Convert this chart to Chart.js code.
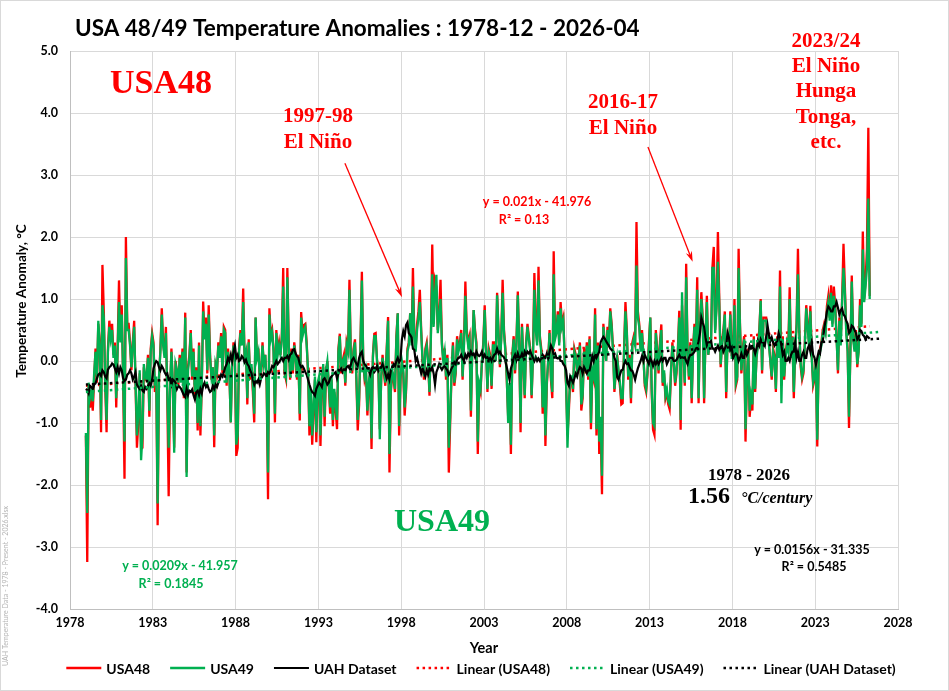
<!DOCTYPE html>
<html>
<head>
<meta charset="utf-8">
<script src="https://cdn.jsdelivr.net/npm/chart.js@4.4.1/dist/chart.umd.min.js"></script>
<style>
  html, body { margin: 0; padding: 0; background: #fff; }
</style>
</head>
<body>
<canvas id="myChart" width="949" height="691"></canvas>
<script>
// monthly series, first value = 1978-12
const startYear = 1978, startMonth = 12;

const usa48 = [
  -1.20,
  -3.24,-0.40,-0.75,-0.55,-0.80,-0.30,0.20,-0.35,0.60,0.30,-1.15,1.55,
  0.80,-0.40,-1.15,0.20,0.65,0.40,0.60,0.10,0.30,-0.75,0.20,1.30,
  0.35,0.90,-0.30,-1.90,2.00,0.60,0.60,0.30,-0.15,0.30,0.65,-0.40,
  -1.40,-1.00,-0.20,-1.42,-1.40,-0.10,-0.30,-0.30,0.10,-0.90,0.20,0.45,
  0.30,-0.50,-0.30,-2.65,-0.30,0.20,0.85,0.30,0.10,0.55,-0.60,-2.18,
  -0.50,0.20,-0.40,-1.40,0.00,-0.20,-0.40,0.10,-0.30,0.20,-0.60,0.78,
  -1.80,-0.10,0.10,0.50,-0.30,0.20,-0.60,-0.10,-1.12,0.30,-1.20,-0.40,
  0.96,0.40,0.70,-0.20,0.90,0.10,-0.30,-0.10,-1.39,-0.10,-0.20,0.30,
  0.10,0.45,-0.20,0.55,0.50,-0.40,0.20,-0.20,-0.99,0.00,0.30,0.00,
  -1.53,-1.40,0.20,0.50,0.30,1.17,0.05,0.20,-0.70,0.35,-0.30,-0.10,
  -0.50,-0.99,0.70,0.00,0.20,-0.30,-0.20,0.30,-0.10,0.10,-0.40,-2.23,
  0.85,0.40,0.50,0.20,-0.99,0.50,0.15,0.30,0.10,0.40,1.50,-0.20,
  -0.30,1.50,0.30,-0.30,0.20,-0.20,0.30,0.10,-0.30,0.10,-0.96,0.79,
  0.45,0.58,0.60,0.30,-0.20,-1.20,-0.50,-1.35,-0.80,-0.30,-1.31,-0.40,
  -0.30,-1.37,-0.40,-0.10,-1.05,-0.20,0.00,-0.40,-0.85,-0.30,-1.05,-0.50,
  -0.80,-1.10,0.20,0.44,-0.20,0.00,0.10,-0.40,0.30,0.20,1.31,0.10,
  -0.20,0.20,0.35,-0.30,-1.12,-0.70,0.30,1.44,0.00,-0.30,-0.20,-0.88,
  -0.40,-0.20,-1.42,0.10,0.44,0.45,0.00,-0.20,-1.10,-0.30,0.10,-0.20,
  -0.40,0.20,0.71,-1.80,-0.50,-0.20,-0.30,-0.50,0.40,0.77,-1.20,-0.30,
  0.00,-0.20,-0.88,-0.50,0.20,0.30,0.77,0.30,1.50,0.40,0.20,0.60,
  0.80,1.15,0.50,0.00,-0.30,0.20,0.30,0.00,-0.56,0.40,1.88,0.60,
  1.30,1.20,0.50,0.80,1.31,0.30,0.00,0.20,-0.30,0.10,-1.80,-1.00,
  -0.20,0.30,-0.40,-0.20,0.40,0.20,0.30,0.50,-0.30,0.30,1.28,0.50,
  0.30,0.40,-0.90,0.20,0.82,0.50,0.30,-1.50,-0.40,-0.50,0.00,0.30,
  0.90,0.20,-0.50,0.20,0.10,-0.45,0.30,0.30,0.00,1.10,0.50,-0.10,
  0.40,1.31,0.50,0.20,-0.30,-0.90,-0.40,-1.50,0.10,0.40,-0.20,0.30,
  1.12,0.30,-1.15,0.60,0.00,-0.60,0.30,0.60,0.40,0.20,-0.60,0.10,
  1.42,0.60,0.30,1.52,0.40,0.20,-0.85,0.10,-1.37,-0.40,0.00,0.50,
  -0.30,-0.60,1.77,0.40,0.50,0.80,0.30,0.95,0.60,0.70,0.00,-0.40,
  -1.20,-0.80,-0.30,-0.30,-0.50,0.20,0.10,-0.20,0.00,0.30,-0.80,-0.60,
  0.20,-0.20,0.30,-0.30,0.40,-1.10,-0.20,-0.30,0.85,-1.20,0.30,-1.50,
  -1.00,-2.15,0.60,0.30,0.00,0.55,0.30,0.85,0.60,0.20,-0.50,-0.20,
  0.10,-0.20,-0.40,-0.70,-0.68,0.20,0.95,0.50,-0.30,0.10,-0.68,0.30,
  0.40,0.30,2.24,0.80,0.60,0.20,0.50,0.10,-0.40,-0.50,-0.20,0.30,
  0.70,-0.50,-1.11,-1.19,0.50,0.20,-0.20,0.30,0.59,-0.40,-0.20,-0.60,
  -0.50,-0.70,-0.78,-0.20,0.30,0.00,-0.40,-0.20,0.20,0.81,-1.11,0.90,
  0.20,-0.40,1.57,0.20,-0.30,0.30,-0.68,0.20,0.60,0.20,1.35,-0.68,
  0.60,1.11,0.70,-0.68,0.40,1.05,0.10,0.30,0.30,1.50,1.84,0.50,
  0.90,2.08,1.00,-0.10,0.30,0.50,0.80,-0.60,0.40,0.20,0.80,0.10,
  0.10,1.00,-0.40,-0.30,1.81,0.60,-0.20,0.20,0.40,-1.30,-0.30,0.20,
  -0.90,-0.60,-0.80,0.40,-0.50,0.10,0.30,0.50,1.00,-0.20,0.70,0.70,
  0.70,0.40,0.30,0.00,-0.30,0.20,0.10,-0.50,0.40,0.10,1.46,-0.40,
  0.40,-0.30,0.10,0.30,0.20,1.19,0.10,0.40,-0.60,0.20,0.60,1.81,
  0.50,-0.10,-0.30,-0.20,0.30,0.90,0.60,0.30,0.89,0.10,-0.40,-0.30,
  0.00,-1.38,0.00,0.20,0.30,0.50,0.60,0.50,0.89,1.05,0.70,1.22,
  0.60,1.20,0.90,0.40,-0.20,0.70,0.30,1.00,1.89,1.20,0.50,0.20,
  -1.08,0.20,1.38,0.40,0.20,0.50,-0.10,0.20,1.00,0.60,2.09,1.00,
  1.30,1.80,3.76,1.05
];

const usa49 = [
  -1.16,
  -2.45,-0.35,-0.60,-0.50,-0.65,-0.20,0.15,-0.30,0.65,0.25,-0.95,0.90,
  0.70,-0.30,-0.95,0.15,0.55,0.35,0.50,0.05,0.25,-0.60,0.15,0.95,
  0.30,0.75,-0.25,-1.30,1.66,0.50,0.50,0.25,-0.10,0.25,0.55,-0.35,
  -1.20,-0.85,-0.15,-1.60,-1.20,-0.05,-0.25,-0.30,0.05,-0.80,0.15,0.40,
  0.25,-0.40,-0.25,-2.30,-0.25,0.15,0.75,0.25,0.05,0.45,-0.50,-1.40,
  -0.45,0.15,-0.35,-1.48,-0.05,-0.15,-0.35,0.05,-0.35,0.15,-0.55,0.70,
  -1.87,-0.15,0.05,0.45,-0.25,0.15,-0.50,-0.15,-1.00,0.25,-1.05,-0.35,
  0.80,0.35,0.60,-0.15,0.75,0.05,-0.25,-0.10,-1.20,-0.05,-0.15,0.25,
  0.05,0.40,-0.15,0.50,0.45,-0.35,0.15,-0.20,-0.99,0.00,0.25,0.05,
  -1.35,-1.20,0.15,0.45,0.25,0.95,0.05,0.15,-0.60,0.30,-0.25,-0.05,
  -0.40,-0.85,0.70,0.05,0.15,-0.25,-0.15,0.25,-0.05,0.10,-0.35,-1.80,
  0.75,0.35,0.45,0.15,-0.85,0.45,0.10,0.25,0.10,0.35,1.20,-0.15,
  -0.25,1.35,0.25,-0.25,0.15,-0.15,0.25,0.05,-0.25,0.05,-0.85,0.70,
  0.40,0.50,0.55,0.25,-0.15,-1.05,-0.45,-1.20,-0.70,-0.25,-1.15,-0.35,
  -0.25,-1.20,-0.35,-0.05,-0.90,-0.15,0.00,-0.35,-0.75,-0.25,-0.95,-0.45,
  -0.70,-0.95,0.15,0.40,-0.15,0.00,0.05,-0.35,0.25,0.15,1.15,0.05,
  -0.15,0.15,0.30,-0.25,-0.95,-0.60,0.25,1.30,0.00,-0.25,-0.15,-0.80,
  -0.35,-0.15,-1.25,0.05,0.40,0.40,0.00,-0.15,-1.26,-0.25,0.05,-0.15,
  -0.35,0.15,0.65,-1.50,-0.45,-0.15,-0.25,-0.45,0.35,0.77,-1.05,-0.25,
  0.00,-0.15,-0.75,-0.45,0.15,0.25,0.77,0.25,1.20,0.35,0.15,0.50,
  0.70,0.95,0.45,0.00,-0.25,0.15,0.25,0.00,-0.50,0.35,1.40,0.55,
  1.10,1.39,0.45,0.70,1.00,0.25,0.00,0.15,-0.25,0.05,-1.40,-0.90,
  -0.15,0.25,-0.35,-0.15,0.35,0.15,0.25,0.45,-0.25,0.25,1.05,0.45,
  0.25,0.35,-0.80,0.15,0.82,0.45,0.25,-1.30,-0.35,-0.45,0.00,0.25,
  0.82,0.15,-0.45,0.15,0.05,-0.40,0.25,0.25,0.00,1.06,0.45,-0.05,
  0.35,1.10,0.45,0.15,-0.25,-1.00,-0.35,-1.35,0.05,0.35,-0.15,0.25,
  1.06,0.25,-1.00,0.55,0.00,-0.55,0.25,0.55,0.35,0.15,-0.55,0.05,
  1.15,0.50,0.25,1.30,0.35,0.15,-0.75,0.05,-1.20,-0.35,0.00,0.45,
  -0.25,-0.50,1.40,0.35,0.45,0.75,0.25,0.85,0.55,0.65,0.00,-0.35,
  -1.40,-0.70,-0.25,-0.25,-0.45,0.15,0.05,-0.15,0.00,0.25,-0.70,-0.55,
  0.15,-0.15,0.25,-0.25,0.35,-1.00,-0.15,-0.25,0.75,-1.10,0.25,-1.30,
  -0.90,-1.85,0.55,0.25,0.00,0.50,0.25,0.80,0.55,0.15,-0.45,-0.15,
  0.05,-0.15,-0.35,-0.60,-0.60,0.15,0.80,0.45,-0.25,0.05,-0.60,0.25,
  0.35,0.25,1.54,0.70,0.55,0.15,0.45,0.05,-0.35,-0.45,-0.15,0.25,
  0.70,-0.45,-1.00,-1.05,0.45,0.15,-0.15,0.25,0.50,-0.35,-0.15,-0.55,
  -0.45,-0.65,-0.70,-0.15,0.25,0.00,-0.35,-0.15,0.15,0.70,-0.95,1.11,
  0.15,-0.35,1.35,0.15,-0.25,0.25,-0.60,0.15,0.55,0.15,1.15,-0.60,
  0.55,1.00,0.65,-0.60,0.35,0.95,0.10,0.25,0.25,1.50,1.50,0.45,
  0.85,1.60,0.90,-0.05,0.25,0.45,0.75,-0.50,0.35,0.15,0.75,0.05,
  0.05,0.90,-0.35,-0.25,1.50,0.55,-0.15,0.15,0.35,-1.10,-0.25,0.15,
  -0.80,-0.55,-0.70,0.35,-0.45,0.05,0.25,0.45,0.97,-0.15,0.65,0.65,
  0.65,0.35,0.25,0.00,-0.25,0.15,0.05,-0.45,0.35,0.05,1.20,-0.68,
  0.35,-0.25,0.05,0.25,0.15,1.00,0.05,0.35,-0.50,0.15,0.55,1.40,
  0.45,-0.05,-0.25,-0.15,0.25,0.85,0.55,0.25,0.80,0.05,-0.35,-0.25,
  0.00,-1.27,0.00,0.15,0.25,0.45,0.55,0.45,0.80,0.95,0.65,1.10,
  0.55,1.05,0.85,0.35,-0.15,0.65,0.25,0.95,1.50,1.10,0.45,0.15,
  -0.90,0.15,1.28,0.35,0.15,0.45,-0.05,0.15,0.90,0.55,1.80,0.95,
  1.20,1.50,2.62,1.00
];

const uah = [
  -0.45,
  -0.47,-0.52,-0.40,-0.42,-0.45,-0.38,-0.36,-0.28,-0.22,-0.20,-0.24,-0.15,
  -0.18,-0.25,-0.28,-0.14,-0.10,-0.08,-0.04,-0.06,-0.12,-0.18,-0.10,-0.20,
  -0.10,-0.15,-0.28,-0.32,-0.30,-0.22,-0.20,-0.15,-0.20,-0.30,-0.25,-0.18,
  -0.38,-0.42,-0.45,-0.40,-0.48,-0.50,-0.42,-0.45,-0.40,-0.36,-0.40,-0.30,
  -0.12,-0.05,0.00,-0.02,-0.10,-0.15,-0.08,-0.12,-0.18,-0.22,-0.20,-0.30,
  -0.28,-0.38,-0.30,-0.32,-0.35,-0.45,-0.40,-0.42,-0.45,-0.50,-0.55,-0.58,
  -0.45,-0.55,-0.48,-0.50,-0.46,-0.55,-0.62,-0.50,-0.48,-0.55,-0.45,-0.52,
  -0.40,-0.35,-0.42,-0.38,-0.45,-0.50,-0.48,-0.40,-0.45,-0.38,-0.42,-0.35,
  -0.30,-0.22,-0.25,-0.18,-0.10,-0.05,0.05,0.00,0.10,0.00,0.15,0.25,
  0.05,0.10,0.00,0.02,0.08,0.05,-0.02,0.02,-0.05,-0.08,-0.15,-0.20,
  -0.30,-0.38,-0.32,-0.35,-0.30,-0.38,-0.28,-0.25,-0.20,-0.22,-0.25,-0.18,
  -0.20,-0.15,-0.08,-0.10,-0.05,0.00,-0.05,-0.02,0.02,0.05,0.00,0.05,
  0.05,0.08,0.02,0.10,0.12,0.18,0.19,0.12,0.08,0.05,-0.05,-0.10,
  -0.08,-0.12,-0.18,-0.22,-0.30,-0.38,-0.45,-0.50,-0.52,-0.56,-0.45,-0.40,
  -0.35,-0.38,-0.42,-0.30,-0.28,-0.32,-0.38,-0.35,-0.28,-0.25,-0.22,-0.20,
  -0.18,-0.28,-0.20,-0.15,-0.12,-0.18,-0.14,-0.16,-0.10,-0.08,-0.12,-0.06,
  0.02,0.05,0.00,-0.04,-0.08,0.05,0.12,0.15,0.00,-0.05,-0.08,-0.12,
  -0.15,-0.22,-0.12,-0.10,-0.18,-0.15,-0.08,-0.16,-0.12,-0.10,-0.05,-0.12,
  -0.20,-0.28,-0.22,-0.30,-0.15,-0.10,-0.05,-0.08,0.00,0.05,-0.02,0.02,
  0.35,0.48,0.40,0.58,0.62,0.45,0.42,0.38,0.20,0.18,0.00,0.05,
  -0.05,-0.10,-0.20,-0.12,-0.18,-0.25,-0.15,-0.22,-0.12,-0.15,-0.10,-0.20,
  -0.38,-0.18,-0.12,-0.05,-0.10,-0.14,-0.10,-0.08,-0.12,-0.15,-0.22,-0.18,
  -0.12,-0.08,-0.02,-0.05,0.02,0.05,0.06,0.10,0.04,0.00,0.10,0.05,
  0.12,0.08,0.15,0.10,0.12,0.06,0.15,0.10,0.08,0.10,0.15,0.05,
  0.10,0.05,0.06,0.02,0.05,0.00,0.06,0.10,0.12,0.20,0.12,0.15,
  0.10,0.08,0.06,0.00,-0.10,-0.20,-0.30,-0.12,-0.05,0.05,0.10,0.02,
  0.12,0.05,0.06,0.12,0.05,0.15,0.10,0.15,0.12,0.16,0.10,0.05,
  0.00,0.06,0.00,0.04,0.00,0.05,0.10,0.06,0.05,0.12,0.05,0.15,
  0.25,0.20,0.10,0.12,0.05,0.04,0.06,0.00,0.00,-0.05,-0.08,-0.15,
  -0.35,-0.40,-0.25,-0.30,-0.35,-0.28,-0.20,-0.25,-0.15,-0.10,-0.12,-0.20,
  -0.10,-0.15,-0.20,-0.15,-0.15,-0.05,0.08,0.00,0.10,0.05,0.10,0.15,
  0.30,0.35,0.39,0.36,0.32,0.28,0.25,0.20,0.18,0.15,0.05,0.00,
  -0.26,-0.30,-0.22,-0.15,-0.14,-0.05,0.00,-0.05,-0.04,-0.10,-0.15,-0.16,
  -0.22,-0.30,-0.20,-0.12,-0.06,0.00,0.08,0.00,0.10,0.05,0.00,-0.05,
  0.05,0.00,-0.08,0.00,-0.05,0.00,-0.05,0.00,0.05,0.00,0.05,0.05,
  -0.05,0.00,0.05,0.05,0.05,0.00,0.00,0.02,0.06,0.10,0.05,0.06,
  0.05,0.06,0.00,-0.05,0.05,0.10,0.10,0.12,0.15,0.20,0.22,0.32,
  0.45,0.70,0.62,0.55,0.38,0.25,0.30,0.30,0.32,0.20,0.20,0.15,
  0.20,0.25,0.18,0.22,0.25,0.15,0.20,0.25,0.46,0.38,0.18,0.22,
  0.05,0.10,0.12,0.10,0.00,0.05,0.12,0.05,0.05,0.20,0.10,0.15,
  0.25,0.20,0.22,0.20,0.12,0.20,0.32,0.25,0.35,0.30,0.30,0.25,
  0.40,0.57,0.42,0.32,0.38,0.30,0.25,0.30,0.32,0.45,0.38,0.25,
  0.10,0.15,0.00,0.00,0.05,0.00,0.10,0.15,0.15,0.30,0.05,0.15,
  0.00,0.00,0.10,0.15,0.05,0.05,0.20,0.25,0.15,0.30,0.10,0.05,
  -0.06,0.05,0.15,0.12,0.30,0.32,0.52,0.65,0.80,0.88,0.85,0.80,
  0.80,0.88,0.88,0.95,0.86,0.75,0.82,0.85,0.75,0.72,0.65,0.60,
  0.45,0.48,0.57,0.55,0.50,0.45,0.35,0.38,0.50,0.48,0.42,0.40,
  0.35,0.40,0.38,0.36
];

// linear trend end points as drawn
const trendX = [1978.96, 2026.9];
const trend48X = [1978.96, 2026.3];
const trend48 = [-0.40, 0.56];
const trend49 = [-0.50, 0.47];
const trendUah = [-0.38, 0.36];

const RED = '#ff0000', GREEN = '#00b050', BLACK = '#000000';
const sans = 'Lato, "Liberation Sans", sans-serif';
const serif = '"Liberation Serif", "DejaVu Serif", serif';

const monthly = arr => arr.map((v, i) => ({ x: startYear + (startMonth - 0.5 + i) / 12, y: v }));
const trend = (xs, arr) => xs.map((x, i) => ({ x: x, y: arr[i] }));

// free text on the plot
const notes = [
  { t: 'USA48', x: 161, y: 84, f: `bold 34px ${serif}`, c: RED },
  { t: 'USA49', x: 442, y: 523, f: `bold 32px ${serif}`, c: GREEN },
  { t: '1997-98', x: 318, y: 117, f: `bold 21px ${serif}`, c: RED },
  { t: 'El Niño', x: 318, y: 143, f: `bold 21px ${serif}`, c: RED },
  { t: '2016-17', x: 623, y: 103, f: `bold 21px ${serif}`, c: RED },
  { t: 'El Niño', x: 623, y: 129, f: `bold 21px ${serif}`, c: RED },
  { t: '2023/24', x: 826, y: 42, f: `bold 21px ${serif}`, c: RED },
  { t: 'El Niño', x: 826, y: 67, f: `bold 21px ${serif}`, c: RED },
  { t: 'Hunga', x: 826, y: 92, f: `bold 21px ${serif}`, c: RED },
  { t: 'Tonga,', x: 826, y: 118, f: `bold 21px ${serif}`, c: RED },
  { t: 'etc.', x: 826, y: 143, f: `bold 21px ${serif}`, c: RED },
  { t: 'y = 0.021x - 41.976', x: 537, y: 202, f: `bold 12.5px ${sans}`, c: RED },
  { t: 'R² = 0.13', x: 524, y: 220, f: `bold 12.5px ${sans}`, c: RED },
  { t: 'y = 0.0209x - 41.957', x: 180, y: 566, f: `bold 12.5px ${sans}`, c: GREEN },
  { t: 'R² = 0.1845', x: 171, y: 584, f: `bold 12.5px ${sans}`, c: GREEN },
  { t: '1978 - 2026', x: 749, y: 476, f: `bold 17px ${serif}`, c: BLACK },
  { t: 'y = 0.0156x - 31.335', x: 812, y: 550, f: `bold 12.5px ${sans}`, c: BLACK },
  { t: 'R² = 0.5485', x: 814, y: 567, f: `bold 12.5px ${sans}`, c: BLACK }
];

// arrows: tail -> tip, in data units
const arrows = [
  { from: [1994.6, 3.19], to: [1998.05, 1.03] },
  { from: [2012.9, 3.45], to: [2015.6, 1.60] }
];

const decor = {
  id: 'decor',
  afterDraw(chart) {
    const ctx = chart.ctx;
    const xs = chart.scales.x, ys = chart.scales.y;
    ctx.save();

    // frame
    ctx.strokeStyle = '#d9d9d9';
    ctx.lineWidth = 1;
    ctx.strokeRect(0.5, 0.5, 948, 690);

    // title
    ctx.fillStyle = '#000';
    ctx.textBaseline = 'middle';
    ctx.textAlign = 'left';
    ctx.font = `bold 22.5px ${sans}`;
    ctx.fillText('USA 48/49 Temperature Anomalies : 1978-12 - 2026-04', 75, 29);

    // y axis title
    ctx.save();
    ctx.translate(22, 301);
    ctx.rotate(-Math.PI / 2);
    ctx.textAlign = 'center';
    ctx.font = `bold 13.5px ${sans}`;
    ctx.fillText('Temperature Anomaly, °C', 0, 0);
    ctx.restore();

    // file name on the left edge
    ctx.save();
    ctx.translate(6, 586);
    ctx.rotate(-Math.PI / 2);
    ctx.textAlign = 'center';
    ctx.fillStyle = '#b4b4b4';
    ctx.font = `7px ${sans}`;
    ctx.fillText('UAH Temperature Data - 1978 - Present - 2026.xlsx', 0, 0);
    ctx.restore();

    // notes
    ctx.textAlign = 'center';
    notes.forEach(n => {
      ctx.font = n.f;
      ctx.fillStyle = n.c;
      ctx.fillText(n.t, n.x, n.y);
    });
    ctx.textAlign = 'left';
    ctx.fillStyle = BLACK;
    ctx.font = `bold 24px ${serif}`;
    ctx.fillText('1.56', 688, 497);
    ctx.font = `italic bold 16px ${serif}`;
    ctx.fillText('°C/century', 741, 499);

    // arrows
    ctx.strokeStyle = RED;
    ctx.fillStyle = RED;
    ctx.lineWidth = 1.3;
    arrows.forEach(a => {
      const x0 = xs.getPixelForValue(a.from[0]), y0 = ys.getPixelForValue(a.from[1]);
      const x1 = xs.getPixelForValue(a.to[0]), y1 = ys.getPixelForValue(a.to[1]);
      const ang = Math.atan2(y1 - y0, x1 - x0);
      ctx.beginPath();
      ctx.moveTo(x0, y0);
      ctx.lineTo(x1 - 6 * Math.cos(ang), y1 - 6 * Math.sin(ang));
      ctx.stroke();
      ctx.beginPath();
      ctx.moveTo(x1, y1);
      ctx.lineTo(x1 - 11 * Math.cos(ang - 0.3), y1 - 11 * Math.sin(ang - 0.3));
      ctx.lineTo(x1 - 7 * Math.cos(ang), y1 - 7 * Math.sin(ang));
      ctx.lineTo(x1 - 11 * Math.cos(ang + 0.3), y1 - 11 * Math.sin(ang + 0.3));
      ctx.closePath();
      ctx.fill();
    });

    // legend, in dataset order
    const ds = chart.data.datasets;
    ctx.font = `bold 14px ${sans}`;
    ctx.textBaseline = 'middle';
    const sw = 35, gap = 5, sp = 20, ly = 668;
    let total = sp * (ds.length - 1);
    ds.forEach(d => { total += sw + gap + ctx.measureText(d.label).width; });
    let lx = 481 - total / 2;
    ds.forEach(d => {
      ctx.save();
      ctx.strokeStyle = d.borderColor;
      ctx.lineWidth = d.borderWidth;
      ctx.setLineDash(d.borderDash || []);
      ctx.beginPath();
      ctx.moveTo(lx, ly);
      ctx.lineTo(lx + sw, ly);
      ctx.stroke();
      ctx.restore();
      ctx.fillStyle = '#000';
      ctx.fillText(d.label, lx + sw + gap, ly + 1);
      lx += sw + gap + ctx.measureText(d.label).width + sp;
    });

    ctx.restore();
  }
};

new Chart(document.getElementById('myChart'), {
  type: 'line',
  data: {
    datasets: [
      { label: 'USA48', data: monthly(usa48), borderColor: RED, borderWidth: 2.3, order: 6 },
      { label: 'USA49', data: monthly(usa49), borderColor: GREEN, borderWidth: 2.3, order: 5 },
      { label: 'UAH Dataset', data: monthly(uah), borderColor: BLACK, borderWidth: 2.2, order: 4 },
      { label: 'Linear (USA48)', data: trend(trend48X, trend48), borderColor: RED, borderWidth: 2.5, borderDash: [2.5, 3.5], order: 7 },
      { label: 'Linear (USA49)', data: trend(trendX, trend49), borderColor: GREEN, borderWidth: 2.5, borderDash: [2.5, 3.5], order: 2 },
      { label: 'Linear (UAH Dataset)', data: trend(trendX, trendUah), borderColor: BLACK, borderWidth: 2.5, borderDash: [2.5, 3.5], order: 1 }
    ]
  },
  options: {
    responsive: false,
    animation: false,
    devicePixelRatio: 1,
    elements: { point: { radius: 0 }, line: { tension: 0, fill: false } },
    layout: { padding: { top: 51, right: 51, left: 0, bottom: 0 } },
    plugins: { legend: { display: false }, tooltip: { enabled: false }, title: { display: false } },
    scales: {
      x: {
        type: 'linear', min: 1978, max: 2028,
        ticks: { stepSize: 5, padding: 6, color: '#000', maxRotation: 0,
                 font: { family: sans, size: 12.5, weight: 'bold' }, callback: v => String(v) },
        grid: { color: '#d9d9d9', drawTicks: false },
        border: { color: '#bfbfbf' },
        title: { display: true, text: 'Year', color: '#000',
                 font: { family: sans, size: 14.5, weight: 'bold' }, padding: { top: 0, bottom: 34 } },
        afterFit: s => { s.height = 82; }
      },
      y: {
        min: -4, max: 5,
        ticks: { stepSize: 1, padding: 12, color: '#000',
                 font: { family: sans, size: 12.5, weight: 'bold' }, callback: v => v.toFixed(1) },
        grid: { color: '#d9d9d9', drawTicks: false },
        border: { color: '#bfbfbf' },
        afterFit: s => { s.width = 70; }
      }
    }
  },
  plugins: [decor]
});
</script>
</body>
</html>
